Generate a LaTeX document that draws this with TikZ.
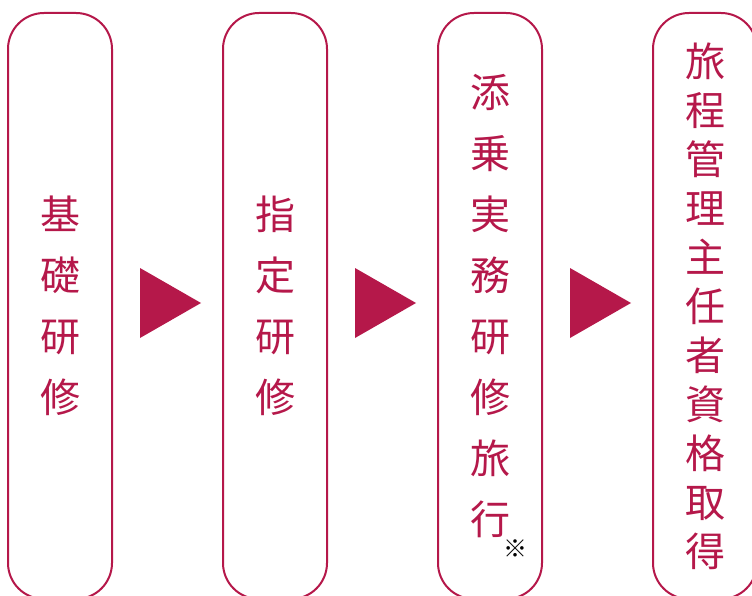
\documentclass[tikz,border=0pt]{standalone}
\usepackage{fontspec}
\newfontfamily\cjk{Noto Sans CJK JP}
\usetikzlibrary{positioning,calc}
\definecolor{crimson}{RGB}{181,24,74}

\tikzset{
  course/.style={draw=crimson,line width=2pt,rounded corners=36pt,minimum width=104pt,minimum height=586pt},
  label/.style={text=crimson,align=center,inner sep=0pt,font=\cjk\fontsize{40}{61}\selectfont},
  pointer/.style={fill=crimson}
}

\begin{document}
\begin{tikzpicture}[x=1pt,y=-1pt]
   \clip (0,0) rectangle (752,596);
   \useasboundingbox (0,0) rectangle (752,596);
   \node [course] (box1) at (60,306) {};
   \node [course, right=109pt of box1] (box2) {};
   \node [course, right=109pt of box2] (box3) {};
   \node [course, right=109pt of box3] (box4) {};
   \node [label] (t1) at (box1) {基\\礎\\研\\修};
   \node [label] (t2) at (box2) {指\\定\\研\\修};
   \node [label] (t3) at (box3) {添\\乗\\実\\務\\研\\修\\旅\\行};
   \node [label,font=\cjk\fontsize{40}{49}\selectfont] (t4) at (box4) {旅\\程\\管\\理\\主\\任\\者\\資\\格\\取\\得};
   \node [font=\cjk\fontsize{24}{24}\selectfont,inner sep=0pt] (note) at (515,549) {※};
   \foreach \a/\b in {box1/box2,box2/box3,box3/box4}
     \fill [pointer] ($(\a.east)+(27,-38)$) -- ++(61,35) -- ++(-61,35) -- cycle;
\end{tikzpicture}
\end{document}
